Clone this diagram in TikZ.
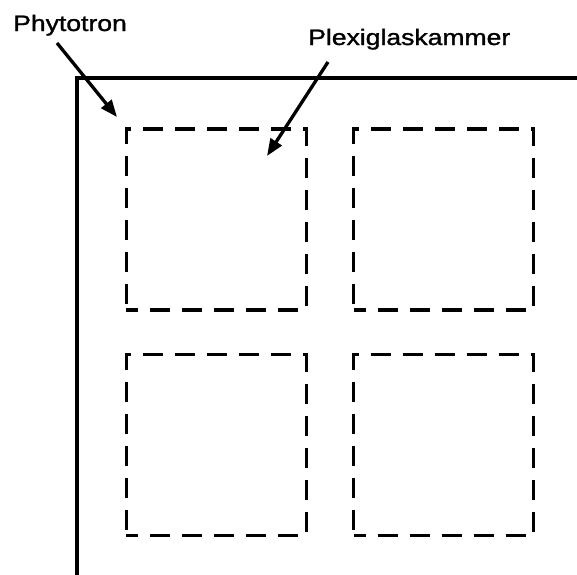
\documentclass[tikz,border=0pt]{standalone}
\usepackage{fontspec}
\setmainfont{Liberation Sans}
\newfontfamily\lblfont[FakeBold=1.2]{Liberation Sans}
\usetikzlibrary{arrows.meta}
\begin{document}
\begin{tikzpicture}[x=1pt,y=-1pt,
  wall/.style={line width=3.3pt,line cap=rect},
  chamber/.style={draw,line width=3.3pt,dash pattern=on 20pt off 12pt,dash phase=8pt,minimum width=180pt,minimum height=181pt,inner sep=0pt,outer sep=0pt},
  lbl/.style={inner sep=0pt,anchor=base west,font=\lblfont\fontsize{22.3}{26}\selectfont,xscale=1.19},
  pointer/.style={line width=3.3pt,-{Triangle[length=17pt,width=13pt]}}]
\useasboundingbox (0,0) rectangle (577,574);
\draw[wall] (577,78) -- (77,78) -- (77,574);
\node[chamber] (tl) at (216.25,219.5) {};
\node[chamber] (tr) at (443.75,219.5) {};
\node[chamber] (bl) at (216.25,445.25) {};
\node[chamber] (br) at (443.75,445.25) {};
\node[lbl] (phy) at (13,31) {Phytotron};
\node[lbl] (plex) at (308,45) {Plexiglaskammer};
\coordinate (phys) at (57,43);
\coordinate (phyt) at (117,117);
\coordinate (plexs) at (328,62);
\coordinate (plext) at (267,156);
\draw[pointer] (phys) -- (phyt);
\draw[pointer] (plexs) -- (plext);
\end{tikzpicture}
\end{document}
